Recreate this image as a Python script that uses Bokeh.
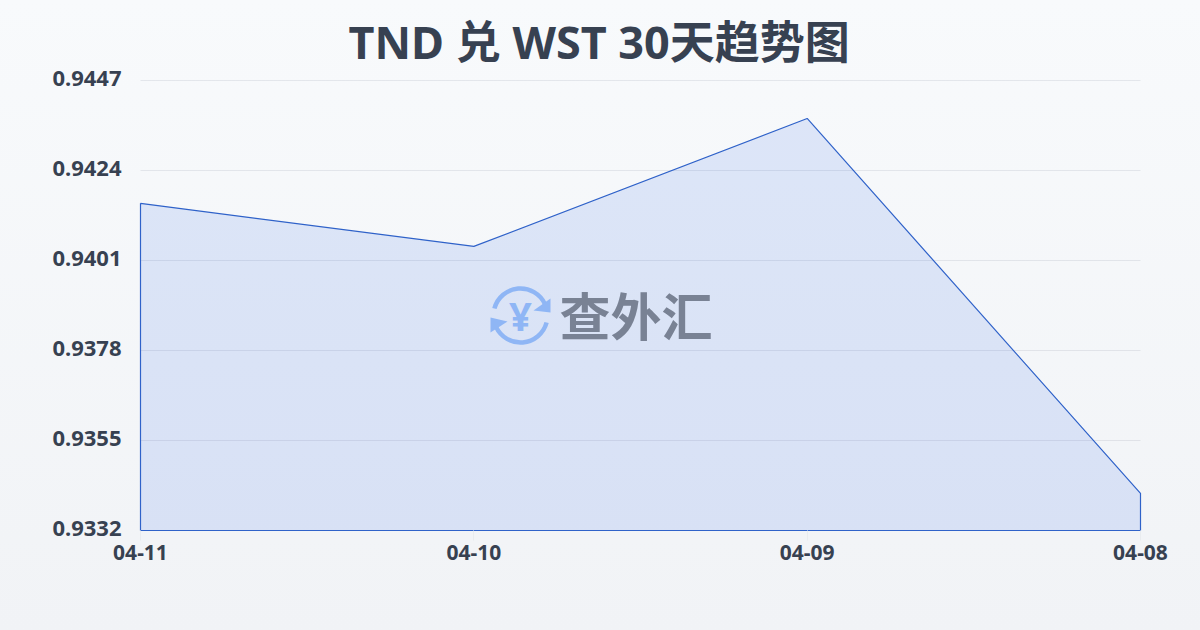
from bokeh.plotting import figure
from bokeh.embed import file_html
from bokeh.resources import INLINE
from bokeh.models import Range1d, FixedTicker, Label, Title
import math

dates = ["04-11", "04-10", "04-09", "04-08"]
rates = [0.94156, 0.94046, 0.94373, 0.93415]
y_ticks = [0.9332, 0.9355, 0.9378, 0.9401, 0.9424, 0.9447]
title_text = "TND 兑 WST 30天趋势图"
watermark = "查外汇"

FONT = "'Noto Sans', 'Noto Sans CJK SC', sans-serif"
INK = "#374151"
LINE = "#2f62c9"

xs = list(range(len(dates)))
# plot area proper is 1000 x 450 px; the frame has 10 px extra all round so
# that strokes lying on its edge are not clipped
xpx = (xs[-1] - xs[0]) / 1000
ypx = (y_ticks[-1] - y_ticks[0]) / 450
PAD = 10
p = figure(width=1200, height=630, output_backend="svg", toolbar_location=None,
           x_range=Range1d(xs[0] - PAD * xpx, xs[-1] + PAD * xpx),
           y_range=Range1d(y_ticks[0] - PAD * ypx, y_ticks[-1] + PAD * ypx),
           min_border_left=130, min_border_right=50, min_border_top=70, min_border_bottom=90)
p.extra_y_ranges = {"labels": Range1d(y_ticks[0] - (PAD + 2) * ypx, y_ticks[-1] + (PAD - 2) * ypx)}
p.outline_line_color = None
p.background_fill_alpha = 0
p.border_fill_alpha = 0

p.title = Title(text=title_text, align="left", offset=218, text_font=FONT, text_font_style="bold",
                text_font_size="45px", text_color=INK, standoff=-3)

p.segment(x0=[xs[0]] * len(y_ticks), x1=[xs[-1]] * len(y_ticks), y0=y_ticks, y1=y_ticks,
          line_color="#1f2d4d", line_alpha=0.09, line_width=1)
base = y_ticks[0]
p.patch(xs + [xs[-1], xs[0]], rates + [base, base],
        fill_color="#2563eb", fill_alpha=0.125, line_color=None)
p.line(xs[:] + [xs[-1], xs[0], xs[0]], rates + [base, base, rates[0]],
       line_color=LINE, line_width=1.2)

# page pixels -> data / frame-relative screen, for the watermark only
def dx(px): return xs[0] + (px - 140) * xpx
def dy(py): return y_ticks[-1] - (py - 80) * ypx
def sx(px): return px - 130
def sy(py): return 540 - py

LOGO = "#8fb6f5"
cx, cy = 520, 315
p.arc(x=[dx(cx)], y=[dy(cy)], radius=27, radius_units="screen",
      start_angle=math.radians(25), end_angle=math.radians(165),
      line_color=LOGO, line_width=4.5)
p.arc(x=[dx(cx)], y=[dy(cy)], radius=27, radius_units="screen",
      start_angle=math.radians(205), end_angle=math.radians(345),
      line_color=LOGO, line_width=4.5)
p.patch([dx(v) for v in (550, 550, 533)], [dy(v) for v in (298, 312, 310)], fill_color=LOGO, line_color=None)
p.patch([dx(v) for v in (490, 490, 507)], [dy(v) for v in (317, 332, 321)], fill_color=LOGO, line_color=None)
p.add_layout(Label(x=sx(cx), y=sy(cy), x_units="screen", y_units="screen", text="¥",
                   text_font=FONT, text_font_style="bold", text_font_size="40px",
                   text_color=LOGO, text_align="center", text_baseline="middle"))
p.add_layout(Label(x=sx(635.5), y=sy(313), x_units="screen", y_units="screen", text=watermark,
                   text_font="Noto Sans CJK SC", text_font_style="bold", text_font_size="51px",
                   text_color="#798294", text_align="center", text_baseline="middle"))

p.xaxis.ticker = FixedTicker(ticks=xs)
p.xaxis.major_label_overrides = dict(zip(xs, dates))
p.yaxis.ticker = FixedTicker(ticks=y_ticks)
p.yaxis.major_label_overrides = {v: f"{v:.4f}" for v in y_ticks}
p.yaxis[0].y_range_name = "labels"
p.xaxis.major_label_text_font_size = "21px"
p.yaxis.major_label_text_font_size = "22px"
for ax in (p.xaxis[0], p.yaxis[0]):
    ax.major_label_text_font = FONT
    ax.major_label_text_font_style = "bold"
    ax.major_label_text_color = INK
    ax.axis_line_color = None
    ax.minor_tick_line_color = None
p.xaxis.major_tick_line_color = "#e9ecef"
p.xaxis.major_tick_in = 10
p.xaxis.major_tick_out = 0
p.xaxis.major_label_standoff = 4
p.yaxis.major_tick_line_color = None
p.yaxis.major_tick_in = 0
p.yaxis.major_tick_out = 0
p.yaxis.major_label_standoff = 9
p.xgrid.grid_line_color = None
p.ygrid.grid_line_color = None

TEMPLATE = """{% block postamble %}<style>html{height:100%;background:linear-gradient(180deg,#f8fafc 0%,#f1f3f6 100%);}body{margin:0;background:transparent;overflow:hidden;}</style>{% endblock %}
"""
open("out.html", "w").write(file_html(p, INLINE, template=TEMPLATE))
